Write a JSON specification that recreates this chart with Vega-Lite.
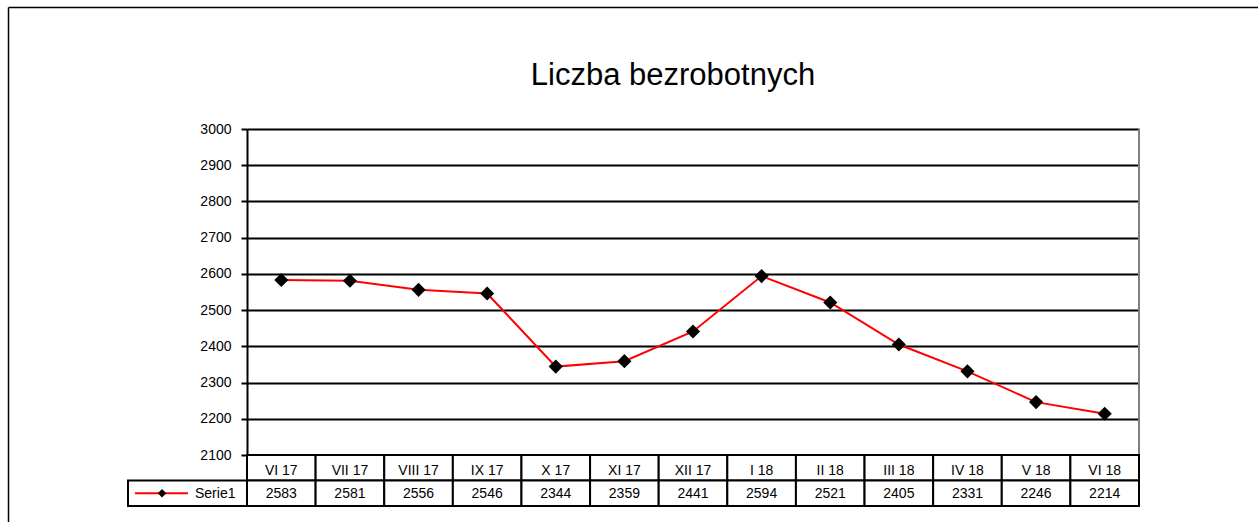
{
  "$schema": "https://vega.github.io/schema/vega-lite/v6.json",
  "width": 1300,
  "height": 540,
  "autosize": {"type": "none"},
  "padding": {"left": 8, "top": 7, "right": -50, "bottom": -25},
  "background": "white",
  "title": {
    "text": "Liczba bezrobotnych",
    "font": "Liberation Sans",
    "fontSize": 31,
    "fontWeight": "normal",
    "color": "#000",
    "anchor": "middle",
    "frame": "group",
    "baseline": "alphabetic",
    "offset": -112,
    "dx": 15
  },
  "config": {
    "view": {"stroke": null},
    "font": "Liberation Sans"
  },
  "datasets": {
    "months": [
      {"month": "VI 17", "value": 2583},
      {"month": "VII 17", "value": 2581},
      {"month": "VIII  17", "value": 2556},
      {"month": "IX 17", "value": 2546},
      {"month": "X 17", "value": 2344},
      {"month": "XI 17", "value": 2359},
      {"month": "XII 17", "value": 2441},
      {"month": "I 18", "value": 2594},
      {"month": "II 18", "value": 2521},
      {"month": "III 18", "value": 2405},
      {"month": "IV 18", "value": 2331},
      {"month": "V 18", "value": 2246},
      {"month": "VI 18", "value": 2214}
    ],
    "legend": [{"series": "Serie1"}],
    "frame": [{"corner": 0}]
  },
  "resolve": {"scale": {"x": "independent", "y": "independent"}},
  "layer": [
    {
      "data": {"name": "frame"},
      "mark": {"type": "point", "opacity": 0},
      "encoding": {
        "x": {
          "field": "corner",
          "type": "quantitative",
          "scale": {"domain": [0, 1], "range": [0, 1400], "nice": false, "zero": false},
          "axis": {"orient": "top", "offset": 0, "domain": true, "domainColor": "#000", "domainWidth": 1.5, "ticks": false, "labels": false, "grid": false, "title": null, "minExtent": 0, "maxExtent": 0}
        },
        "y": {
          "field": "corner",
          "type": "quantitative",
          "scale": {"domain": [0, 1], "range": [0, 700], "nice": false, "zero": false},
          "axis": {"orient": "left", "offset": 0, "domain": true, "domainColor": "#000", "domainWidth": 1.5, "ticks": false, "labels": false, "grid": false, "title": null, "minExtent": 0, "maxExtent": 0}
        }
      }
    },
    {
      "data": {"name": "months"},
      "layer": [
        {
          "mark": {"type": "line", "color": "#ff0000", "strokeWidth": 2},
          "encoding": {
            "x": {
              "field": "month",
              "type": "nominal",
              "scale": {
                "type": "band",
                "domain": ["VI 17", "VII 17", "VIII  17", "IX 17", "X 17", "XI 17", "XII 17", "I 18", "II 18", "III 18", "IV 18", "V 18", "VI 18"],
                "range": [239, 1131],
                "paddingInner": 0,
                "paddingOuter": 0
              },
              "axis": null
            },
            "y": {
              "field": "value",
              "type": "quantitative",
              "scale": {"domain": [2100, 3000], "range": [448, 122], "nice": false, "zero": false},
              "axis": {
                "orient": "left",
                "offset": -239,
                "values": [2100, 2200, 2300, 2400, 2500, 2600, 2700, 2800, 2900, 3000],
                "format": "d",
                "title": null,
                "domainColor": "#000",
                "domainWidth": 2,
                "tickColor": "#000",
                "tickWidth": 2,
                "tickSize": 6,
                "labelFont": "Liberation Sans",
                "labelFontSize": 14,
                "labelColor": "#000",
                "labelPadding": 10,
                "grid": true,
                "gridColor": "#000",
                "gridWidth": 2,
                "gridOpacity": 1
              }
            }
          }
        },
        {
          "mark": {"type": "point", "shape": "diamond", "filled": true, "color": "#000", "size": 200, "opacity": 1},
          "encoding": {
            "x": {"field": "month", "type": "nominal"},
            "y": {"field": "value", "type": "quantitative"}
          }
        },
        {
          "mark": {"type": "rule", "color": "#808080", "strokeWidth": 2},
          "encoding": {
            "x": {"datum": "VI 18", "type": "nominal", "bandPosition": 1},
            "y": {"datum": 2100, "type": "quantitative"},
            "y2": {"datum": 3000}
          }
        }
      ]
    },
    {
      "resolve": {"scale": {"x": "independent"}},
      "layer": [
        {
          "data": {"name": "months"},
          "layer": [
            {
              "mark": {"type": "rect", "fill": "#fff", "stroke": "#000", "strokeWidth": 2},
              "encoding": {
                "x": {
                  "field": "month",
                  "type": "nominal",
                  "scale": {
                    "type": "band",
                    "domain": ["VI 17", "VII 17", "VIII  17", "IX 17", "X 17", "XI 17", "XII 17", "I 18", "II 18", "III 18", "IV 18", "V 18", "VI 18"],
                    "range": [239, 1131],
                    "paddingInner": 0,
                    "paddingOuter": 0
                  },
                  "axis": null
                },
                "y": {
                  "datum": "cat",
                  "type": "nominal",
                  "scale": {"type": "band", "domain": ["cat", "val"], "range": [448, 499], "paddingInner": 0, "paddingOuter": 0},
                  "axis": null
                }
              }
            },
            {
              "mark": {"type": "rect", "fill": "#fff", "stroke": "#000", "strokeWidth": 2},
              "encoding": {
                "x": {"field": "month", "type": "nominal"},
                "y": {"datum": "val", "type": "nominal"}
              }
            },
            {
              "mark": {"type": "text", "font": "Liberation Sans", "fontSize": 14, "color": "#000", "baseline": "middle", "dy": 3},
              "encoding": {
                "x": {"field": "month", "type": "nominal"},
                "y": {"datum": "cat", "type": "nominal"},
                "text": {"field": "month", "type": "nominal"}
              }
            },
            {
              "mark": {"type": "text", "font": "Liberation Sans", "fontSize": 14, "color": "#000", "baseline": "middle", "dy": 1},
              "encoding": {
                "x": {"field": "month", "type": "nominal"},
                "y": {"datum": "val", "type": "nominal"},
                "text": {"field": "value", "type": "quantitative", "format": "d"}
              }
            }
          ]
        },
        {
          "data": {"name": "legend"},
          "layer": [
            {
              "mark": {"type": "rect", "fill": "#fff", "stroke": "#000", "strokeWidth": 2},
              "encoding": {
                "x": {"datum": 0, "type": "quantitative", "scale": {"domain": [0, 1], "range": [120, 239], "nice": false, "zero": false}, "axis": null},
                "x2": {"datum": 1},
                "y": {"datum": "val", "type": "nominal"}
              }
            },
            {
              "mark": {"type": "rule", "color": "#ff0000", "strokeWidth": 2},
              "encoding": {
                "x": {"datum": 0.059, "type": "quantitative"},
                "x2": {"datum": 0.504},
                "y": {"datum": "val", "type": "nominal"}
              }
            },
            {
              "mark": {"type": "point", "shape": "diamond", "filled": true, "color": "#000", "size": 70, "opacity": 1},
              "encoding": {
                "x": {"datum": 0.286, "type": "quantitative"},
                "y": {"datum": "val", "type": "nominal"}
              }
            },
            {
              "mark": {"type": "text", "font": "Liberation Sans", "fontSize": 14, "color": "#000", "align": "left", "baseline": "middle", "dy": 1},
              "encoding": {
                "x": {"datum": 0.563, "type": "quantitative"},
                "y": {"datum": "val", "type": "nominal"},
                "text": {"field": "series", "type": "nominal"}
              }
            }
          ]
        }
      ]
    }
  ]
}
